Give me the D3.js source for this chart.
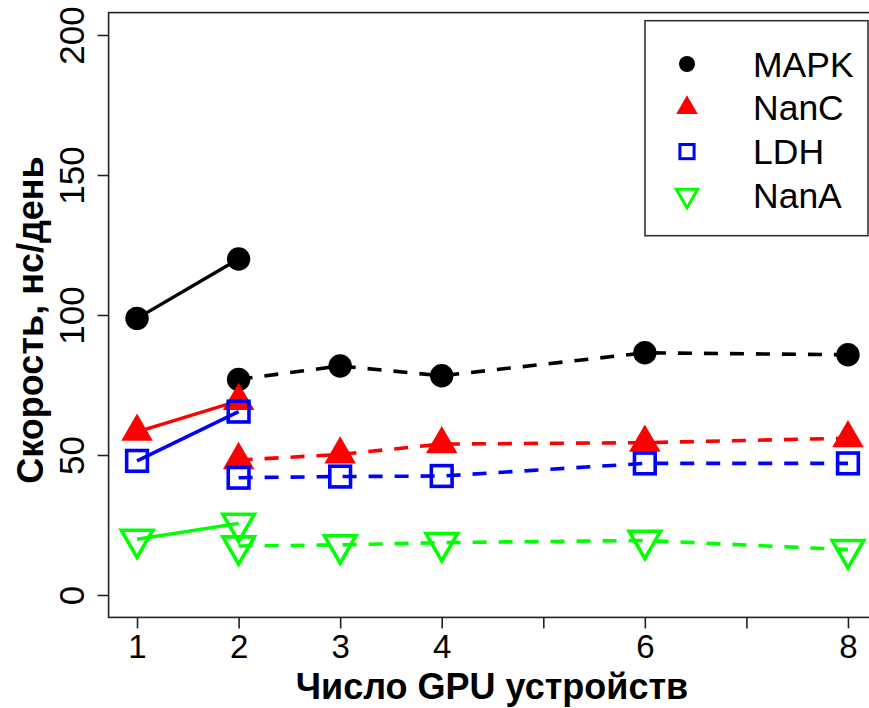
<!DOCTYPE html>
<html lang="ru">
<head>
  <meta charset="utf-8"/>
  <title>Скорость</title>
  <script src="https://d3js.org/d3.v7.min.js"></script>
  <style>
    body { margin: 0; background: #fff; }
    text { font-family: "Liberation Sans", Arial, sans-serif; fill: #000; }
    .tick-x { font-size: 33px; }
    .tick-y { font-size: 35px; }
    .title { font-size: 36px; font-weight: bold; }
    .legend-text { font-size: 35.5px; }
  </style>
</head>
<body>
<svg id="chart" width="869" height="708"></svg>

<script type="text/javascript">
  // число GPU
  const gpuSolid = [1, 2];
  const gpuDashed = [2, 3, 4, 6, 8];

  const mapkSolid = [98.8, 120];
  const mapkDashed = [77, 81.8, 78.3, 86.5, 85.8];
  const nancSolid = [58.3, 69.3];
  const nancDashed = [48.2, 50.2, 53.9, 54.4, 56];
  const ldhSolid = [47.9, 65.5];
  const ldhDashed = [41.9, 42.3, 42.5, 47.0, 47.0];
  const nanaSolid = [19.9, 25.6];
  const nanaDashed = [17.5, 17.9, 18.7, 19.5, 16.2];

  const seriesNames = ["MAPK", "NanC", "LDH", "NanA"];
  const seriesColors = ["#000000", "#ff0000", "#0000ff", "#00ff00"];
  const seriesShapes = ["circle", "triangle", "square", "triangleDown"];

  const xTicks = [1, 2, 3, 4, 5, 6, 7, 8];
  const xTickLabels = ["1", "2", "3", "4", "", "6", "", "8"];
  const yTicks = [0, 50, 100, 150, 200];

  const series = [
    { solid: mapkSolid, dashed: mapkDashed },
    { solid: nancSolid, dashed: nancDashed },
    { solid: ldhSolid, dashed: ldhDashed },
    { solid: nanaSolid, dashed: nanaDashed }
  ];

  const svg = d3.select("#chart");

  // R style: 4% extension of the ranges
  const x = d3.scaleLinear().domain([0.72, 8.28]).range([108.6, 876.4]);
  const y = d3.scaleLinear().domain([-8, 208]).range([617.4, 12.6]);

  // marker drawing, s = base radius (like R RADIUS*cex)
  function drawMarker(g, shape, color, cx, cy, s, sw) {
    if (shape === "circle") {
      g.append("circle").attr("cx", cx).attr("cy", cy).attr("r", s).attr("fill", color);
    } else if (shape === "triangle" || shape === "triangleDown") {
      const r = 1.555 * s, xc = r * Math.sqrt(3) / 2, yc = r / 2;
      const sg = shape === "triangle" ? 1 : -1;
      const pts = [[cx, cy - sg * r], [cx + xc, cy + sg * yc], [cx - xc, cy + sg * yc]];
      g.append("path")
        .attr("d", d3.line()(pts) + "Z")
        .attr("fill", shape === "triangle" ? color : "none")
        .attr("stroke", color)
        .attr("stroke-width", shape === "triangle" ? 0 : sw);
    } else if (shape === "square") {
      const h = 0.886 * s;
      g.append("rect").attr("x", cx - h).attr("y", cy - h)
        .attr("width", 2 * h).attr("height", 2 * h)
        .attr("fill", "none").attr("stroke", color).attr("stroke-width", sw);
    }
  }

  const line = d3.line().x(d => x(d[0])).y(d => y(d[1]));

  const plot = svg.append("g");

  series.forEach(function(s, i) {
    const g = plot.append("g");
    const solidPts = gpuSolid.map((v, k) => [v, s.solid[k]]);
    const dashedPts = gpuDashed.map((v, k) => [v, s.dashed[k]]);

    solidPts.concat(dashedPts).forEach(function(p) {
      drawMarker(g, seriesShapes[i], seriesColors[i], x(p[0]), y(p[1]), 11.7, 3.6);
    });

    g.append("path").attr("d", line(solidPts))
      .attr("fill", "none").attr("stroke", seriesColors[i]).attr("stroke-width", 3.4);
    g.append("path").attr("d", line(dashedPts))
      .attr("fill", "none").attr("stroke", seriesColors[i]).attr("stroke-width", 3.6)
      .attr("stroke-dasharray", "14,12");
  });

  // box
  svg.append("rect")
    .attr("x", x.range()[0]).attr("y", y.range()[1])
    .attr("width", x.range()[1] - x.range()[0])
    .attr("height", y.range()[0] - y.range()[1])
    .attr("fill", "none").attr("stroke", "#222").attr("stroke-width", 1.6);

  // x axis
  const xAxis = svg.append("g")
    .attr("transform", `translate(0,${y.range()[0]})`)
    .call(d3.axisBottom(x).tickValues(xTicks).tickSize(11).tickPadding(6)
      .tickFormat((d, i) => xTickLabels[i]));
  xAxis.select(".domain").remove();
  xAxis.selectAll(".tick line").attr("stroke", "#222").attr("stroke-width", 1.6);
  xAxis.selectAll(".tick text").attr("class", "tick-x").attr("font-family", null).attr("font-size", null);

  // y axis
  const yAxis = svg.append("g")
    .attr("transform", `translate(${x.range()[0]},0)`)
    .call(d3.axisLeft(y).tickValues(yTicks).tickSize(11).tickFormat(d3.format("d")));
  yAxis.select(".domain").remove();
  yAxis.selectAll(".tick line").attr("stroke", "#222").attr("stroke-width", 1.6);
  yAxis.selectAll(".tick text")
    .attr("class", "tick-y").attr("font-family", null).attr("font-size", null)
    .attr("x", null).attr("dy", null)
    .attr("text-anchor", "middle")
    .attr("transform", "translate(-25,0) rotate(-90)");

  // axis titles
  svg.append("text").attr("class", "title")
    .attr("x", 492).attr("y", 699).attr("text-anchor", "middle")
    .text("Число GPU устройств");

  svg.append("text").attr("class", "title")
    .attr("text-anchor", "middle")
    .attr("transform", "translate(43,320) rotate(-90)")
    .text("Скорость, нс/день");

  // legend
  const legend = svg.append("g");
  legend.append("rect")
    .attr("x", 645).attr("y", 20.7).attr("width", 223).attr("height", 215)
    .attr("fill", "#fff").attr("stroke", "#333").attr("stroke-width", 1.6);

  seriesNames.forEach(function(name, i) {
    const ly = 64 + i * 43.8;
    drawMarker(legend, seriesShapes[i], seriesColors[i], 687, ly, 8, 3);
    legend.append("text").attr("class", "legend-text")
      .attr("x", 753).attr("y", ly + 12.5).text(name);
  });
</script>
</body>
</html>
